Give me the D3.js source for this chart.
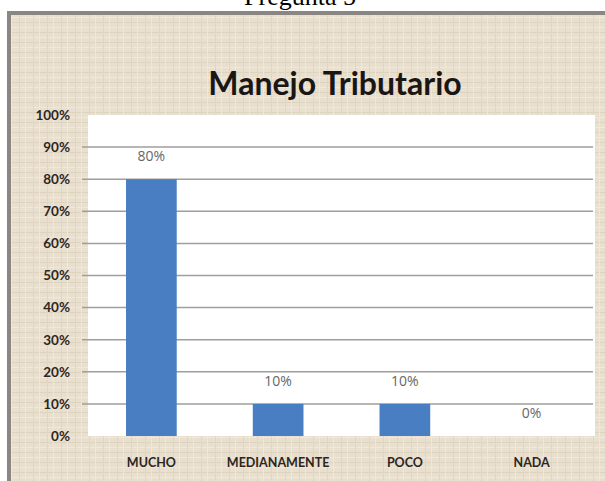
<!DOCTYPE html>
<html>
<meta charset="utf-8"/>
<head>
  <title>Manejo Tributario</title>
  <style>
    body { margin: 0; background: #fff; }
    .ylab text { font-family: Lato, sans-serif; font-weight: bold; font-size: 13.5px; fill: #2b2622; }
    .xlab text { font-family: Lato, sans-serif; font-weight: bold; font-size: 12.5px; fill: #2b2622; }
    .vals text { font-family: "Open Sans", sans-serif; font-size: 14px; fill: #666; }
  </style>
</head>
<body>
<svg width="605" height="481"></svg>
<script src="https://d3js.org/d3.v7.min.js"></script>
<script>
// data
var categories = ['MUCHO', 'MEDIANAMENTE', 'POCO', 'NADA'];
var values = [0.80, 0.10, 0.10, 0.00];
var yTicks = [0, 0.1, 0.2, 0.3, 0.4, 0.5, 0.6, 0.7, 0.8, 0.9, 1.0];

var svg = d3.select("svg");

// linen texture for the frame (soft)
var defs = svg.append("defs");
var pat = defs.append("pattern")
    .attr("id", "linen")
    .attr("patternUnits", "userSpaceOnUse")
    .attr("width", 14).attr("height", 10);
pat.append("rect").attr("width", 14).attr("height", 10).attr("fill", "#e8dfcf");
pat.append("rect").attr("x", 0).attr("y", 2).attr("width", 14).attr("height", 1).attr("fill", "#ded3bf");
pat.append("rect").attr("x", 0).attr("y", 7).attr("width", 14).attr("height", 1).attr("fill", "#efe8dc");
pat.append("rect").attr("x", 5).attr("y", 0).attr("width", 1).attr("height", 10).attr("fill", "#e0d6c3");
pat.append("rect").attr("x", 11).attr("y", 0).attr("width", 1).attr("height", 10).attr("fill", "#eee7da");

// page heading, mostly cut off at the top as in the source
svg.append("text")
    .attr("x", 300).attr("y", 5)
    .attr("text-anchor", "middle")
    .style("font-family", "'Liberation Serif', 'Times New Roman', serif")
    .style("font-size", "26px")
    .style("fill", "#000")
    .text("Pregunta 5");

// frame
svg.append("rect")
    .attr("x", 9).attr("y", 13).attr("width", 600).attr("height", 475)
    .attr("fill", "url(#linen)")
    .attr("stroke", "#8a8782").attr("stroke-width", 4);

svg.append("text")
    .attr("x", 335).attr("y", 95)
    .attr("text-anchor", "middle")
    .style("font-family", "Lato, sans-serif")
    .style("font-weight", "bold")
    .style("font-size", "32px")
    .style("fill", "#1a1613")
    .text("Manejo Tributario");

var margin = {left: 88, right: 595, top: 115, bottom: 436};

var x = d3.scaleBand()
    .domain(categories)
    .range([margin.left, margin.right])
    .paddingInner(0.6)
    .paddingOuter(0.3);

var y = d3.scaleLinear()
    .domain([0, 1])
    .range([margin.bottom, margin.top]);

// plot area
svg.append("rect")
    .attr("x", margin.left).attr("y", margin.top)
    .attr("width", margin.right - margin.left)
    .attr("height", margin.bottom - margin.top)
    .attr("fill", "#fff");

// gridlines
svg.append("g")
  .selectAll("line")
  .data(yTicks.filter(function(d) { return d > 0 && d < 1; }))
  .enter().append("line")
    .attr("x1", 82).attr("x2", margin.right - 2)
    .attr("y1", function(d) { return y(d); })
    .attr("y2", function(d) { return y(d); })
    .attr("stroke", "#a09e9b").attr("stroke-width", 1.5);

// y labels
var yAxis = d3.axisLeft(y)
    .tickValues(yTicks)
    .tickFormat(d3.format(".0%"))
    .tickSize(0)
    .tickPadding(0);
svg.append("g")
    .attr("class", "ylab")
    .attr("transform", "translate(70,0)")
    .call(yAxis)
    .call(function(g) { g.select(".domain").remove(); });

// bars
svg.append("g")
  .selectAll("rect")
  .data(values)
  .enter().append("rect")
    .attr("x", function(d, i) { return x(categories[i]); })
    .attr("y", function(d) { return y(d); })
    .attr("width", x.bandwidth())
    .attr("height", function(d) { return y(0) - y(d); })
    .attr("fill", "#4a7ec2");

// value labels
svg.append("g")
    .attr("class", "vals")
  .selectAll("text")
  .data(values)
  .enter().append("text")
    .attr("x", function(d, i) { return x(categories[i]) + x.bandwidth() / 2; })
    .attr("y", function(d) { return y(d) - 18; })
    .attr("text-anchor", "middle")
    .text(function(d) { return d3.format(".0%")(d); });

// x labels
var xAxis = d3.axisBottom(x).tickSize(0).tickPadding(0);
svg.append("g")
    .attr("class", "xlab")
    .attr("transform", "translate(0,467)")
    .call(xAxis)
    .call(function(g) { g.select(".domain").remove(); })
    .selectAll("text").attr("dy", 0);
</script>
</body>
</html>
